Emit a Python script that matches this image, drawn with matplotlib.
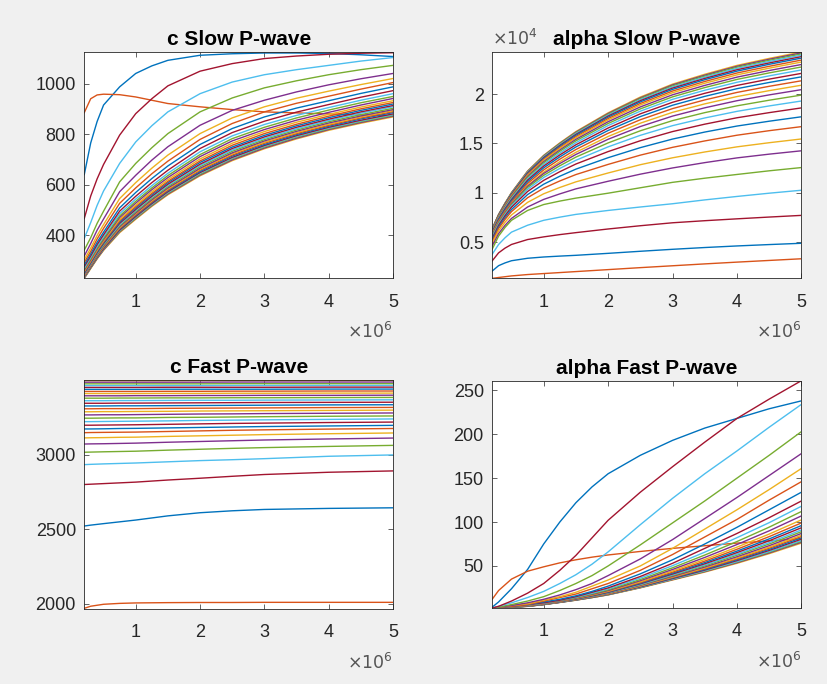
import matplotlib
matplotlib.use('Agg')
import matplotlib.pyplot as plt

plt.rcParams['font.family'] = ['Liberation Sans', 'DejaVu Sans']

# frequency samples (x 10^6)
freq_slow = [0.2, 0.3, 0.4, 0.5, 0.75, 1.0, 1.25, 1.5, 2.0, 2.5, 3.0, 3.5, 4.0, 4.5, 5.0]
freq_cfast = [0.2, 0.3, 0.5, 0.75, 1.0, 1.5, 2.0, 2.5, 3.0, 4.0, 5.0]
freq_afast = [0.2, 0.3, 0.5, 0.75, 1.0, 1.25, 1.5, 1.75, 2.0, 2.5, 3.0, 3.5, 4.0, 4.5, 5.0]

# c Slow P-wave, one row per curve (plot order)
c_slow = [
    [640, 765, 850, 915, 987, 1040, 1070, 1092, 1112, 1118, 1121, 1121, 1119, 1114, 1107],
    [885, 940, 955, 958, 956, 947, 934, 921, 908, 897, 888, 884, 880, 876, 873],
    [229, 268, 306, 340, 410, 463, 514, 560, 635, 695, 742, 781, 815, 843, 868],
    [230, 270, 308, 342, 413, 466, 517, 563, 638, 698, 745, 784, 818, 846, 871],
    [232, 271, 310, 344, 415, 468, 519, 566, 641, 702, 749, 788, 821, 849, 874],
    [233, 273, 312, 346, 418, 471, 522, 569, 645, 705, 752, 791, 824, 852, 877],
    [235, 274, 313, 347, 420, 474, 525, 572, 648, 708, 755, 794, 827, 855, 880],
    [237, 276, 315, 350, 424, 478, 529, 576, 652, 713, 759, 798, 831, 860, 885],
    [238, 278, 317, 352, 427, 481, 532, 579, 657, 717, 764, 802, 835, 864, 889],
    [240, 280, 320, 355, 430, 485, 536, 583, 661, 722, 768, 806, 839, 868, 893],
    [242, 282, 322, 357, 434, 488, 540, 587, 665, 726, 773, 811, 844, 872, 897],
    [245, 285, 325, 360, 438, 493, 545, 592, 671, 732, 778, 816, 849, 877, 902],
    [247, 287, 328, 364, 442, 498, 550, 597, 676, 737, 783, 821, 854, 883, 908],
    [249, 290, 331, 367, 447, 502, 554, 602, 681, 743, 789, 827, 859, 888, 913],
    [252, 293, 334, 370, 452, 508, 560, 608, 688, 749, 795, 833, 865, 894, 919],
    [255, 296, 338, 374, 457, 513, 565, 613, 694, 756, 802, 839, 871, 900, 925],
    [258, 299, 341, 378, 463, 519, 572, 620, 702, 764, 810, 847, 878, 907, 932],
    [262, 303, 346, 383, 470, 527, 580, 628, 711, 773, 818, 855, 886, 915, 941],
    [266, 307, 350, 388, 476, 534, 587, 636, 719, 782, 827, 864, 895, 924, 949],
    [270, 312, 356, 395, 485, 543, 596, 645, 730, 793, 838, 874, 905, 934, 960],
    [276, 318, 363, 402, 495, 554, 608, 657, 743, 806, 851, 887, 917, 946, 972],
    [283, 326, 372, 412, 508, 569, 624, 674, 759, 822, 868, 903, 932, 961, 987],
    [292, 336, 385, 427, 526, 587, 643, 693, 779, 842, 888, 922, 950, 978, 1004],
    [303, 349, 399, 442, 545, 608, 665, 717, 802, 864, 908, 942, 970, 996, 1020],
    [318, 367, 420, 464, 572, 637, 697, 750, 835, 894, 934, 967, 995, 1019, 1040],
    [341, 390, 447, 495, 611, 684, 746, 802, 888, 943, 983, 1011, 1035, 1055, 1072],
    [387, 450, 518, 575, 684, 769, 833, 888, 960, 1006, 1035, 1055, 1072, 1089, 1103],
    [466, 555, 623, 680, 796, 881, 940, 991, 1049, 1079, 1099, 1109, 1116, 1120, 1122],
]

# alpha Slow P-wave
alpha_slow = [
    [2050, 2600, 2880, 3100, 3350, 3480, 3570, 3650, 3850, 4060, 4260, 4440, 4600, 4740, 4870],
    [1310, 1400, 1480, 1560, 1700, 1800, 1900, 2000, 2200, 2400, 2590, 2780, 2960, 3130, 3300],
    [6330, 7800, 8950, 10010, 12200, 13790, 15050, 16200, 18100, 19700, 21010, 22010, 22910, 23620, 24270],
    [6315, 7780, 8920, 9980, 12160, 13750, 15000, 16140, 18030, 19620, 20930, 21920, 22820, 23530, 24180],
    [6300, 7760, 8900, 9950, 12110, 13700, 14950, 16080, 17960, 19550, 20840, 21830, 22730, 23430, 24080],
    [6280, 7730, 8860, 9900, 12060, 13630, 14870, 16000, 17870, 19440, 20730, 21720, 22610, 23310, 23950],
    [6260, 7700, 8830, 9860, 12000, 13560, 14790, 15910, 17770, 19330, 20610, 21590, 22470, 23160, 23800],
    [6240, 7670, 8790, 9810, 11930, 13480, 14710, 15820, 17660, 19210, 20480, 21460, 22330, 23020, 23650],
    [6210, 7620, 8730, 9740, 11850, 13380, 14590, 15690, 17520, 19050, 20310, 21280, 22140, 22820, 23450],
    [6180, 7580, 8680, 9680, 11760, 13280, 14480, 15570, 17380, 18900, 20140, 21100, 21950, 22630, 23250],
    [6140, 7520, 8610, 9600, 11650, 13150, 14330, 15410, 17200, 18700, 19930, 20880, 21720, 22390, 23000],
    [6100, 7470, 8540, 9510, 11550, 13030, 14200, 15260, 17020, 18500, 19720, 20660, 21490, 22150, 22750],
    [6050, 7400, 8450, 9410, 11410, 12870, 14020, 15070, 16810, 18270, 19470, 20390, 21200, 21850, 22450],
    [6000, 7320, 8360, 9300, 11270, 12700, 13830, 14860, 16560, 18000, 19170, 20080, 20880, 21520, 22100],
    [5940, 7240, 8260, 9180, 11110, 12520, 13630, 14640, 16310, 17720, 18870, 19770, 20550, 21180, 21750],
    [5870, 7140, 8140, 9040, 10930, 12310, 13400, 14380, 16030, 17400, 18530, 19410, 20170, 20790, 21350],
    [5790, 7030, 8010, 8890, 10730, 12080, 13140, 14100, 15700, 17050, 18150, 19010, 19750, 20350, 20900],
    [5700, 6980, 7960, 8850, 10640, 11950, 12960, 13880, 15420, 16710, 17770, 18610, 19330, 19920, 20450],
    [5600, 6910, 7890, 8770, 10520, 11760, 12730, 13610, 15050, 16280, 17310, 18120, 18810, 19380, 19900],
    [5480, 6810, 7790, 8660, 10340, 11540, 12460, 13290, 14650, 15820, 16800, 17580, 18250, 18800, 19300],
    [5350, 6690, 7660, 8520, 10120, 11250, 12130, 12910, 14170, 15270, 16200, 16950, 17600, 18120, 18600],
    [5200, 6530, 7470, 8290, 9810, 10860, 11670, 12390, 13550, 14570, 15440, 16150, 16760, 17250, 17700],
    [5050, 6370, 7290, 8080, 9490, 10460, 11190, 11840, 12870, 13810, 14600, 15250, 15830, 16290, 16700],
    [4850, 6130, 7000, 7740, 9020, 9890, 10530, 11100, 12000, 12840, 13540, 14130, 14650, 15070, 15450],
    [4590, 5850, 6690, 7390, 8550, 9320, 9880, 10390, 11160, 11880, 12510, 13050, 13530, 13910, 14250],
    [4260, 5600, 6480, 7200, 8200, 8800, 9150, 9450, 9950, 10500, 11050, 11470, 11850, 12220, 12550],
    [3750, 4750, 5430, 6000, 6700, 7200, 7520, 7800, 8200, 8550, 8880, 9270, 9620, 9950, 10250],
    [3080, 3900, 4380, 4750, 5250, 5520, 5750, 5950, 6320, 6650, 6950, 7160, 7350, 7530, 7700],
]

# c Fast P-wave
c_fast = [
    [2522, 2528, 2538, 2550, 2562, 2590, 2611, 2624, 2633, 2640, 2644],
    [1971, 1985, 1998, 2004, 2007, 2009, 2010, 2010, 2011, 2011, 2011],
    [3495, 3495, 3495, 3495, 3495, 3495, 3496, 3496, 3496, 3496, 3496],
    [3485, 3485, 3485, 3485, 3485, 3485, 3485, 3486, 3486, 3486, 3486],
    [3474, 3474, 3474, 3474, 3474, 3474, 3474, 3475, 3475, 3475, 3475],
    [3462, 3462, 3462, 3462, 3462, 3462, 3462, 3463, 3463, 3463, 3463],
    [3450, 3450, 3450, 3450, 3450, 3451, 3451, 3451, 3451, 3452, 3452],
    [3437, 3437, 3437, 3437, 3437, 3438, 3438, 3438, 3438, 3439, 3439],
    [3423, 3423, 3423, 3423, 3423, 3424, 3424, 3425, 3425, 3426, 3426],
    [3409, 3409, 3409, 3409, 3409, 3410, 3410, 3411, 3411, 3412, 3412],
    [3394, 3394, 3394, 3394, 3395, 3395, 3396, 3396, 3397, 3397, 3398],
    [3378, 3378, 3378, 3379, 3379, 3380, 3380, 3381, 3381, 3382, 3383],
    [3361, 3361, 3361, 3362, 3362, 3363, 3364, 3364, 3365, 3366, 3367],
    [3344, 3344, 3344, 3345, 3345, 3346, 3347, 3348, 3349, 3350, 3351],
    [3326, 3326, 3326, 3327, 3327, 3328, 3329, 3330, 3331, 3333, 3334],
    [3307, 3307, 3308, 3308, 3308, 3310, 3311, 3312, 3313, 3315, 3316],
    [3287, 3287, 3288, 3288, 3289, 3290, 3292, 3293, 3294, 3296, 3298],
    [3266, 3266, 3267, 3267, 3268, 3270, 3272, 3273, 3275, 3277, 3279],
    [3244, 3244, 3245, 3246, 3246, 3249, 3250, 3252, 3254, 3257, 3259],
    [3221, 3221, 3222, 3223, 3224, 3226, 3229, 3231, 3233, 3236, 3239],
    [3197, 3197, 3198, 3199, 3200, 3203, 3206, 3209, 3211, 3215, 3218],
    [3172, 3172, 3173, 3175, 3176, 3179, 3182, 3185, 3188, 3192, 3196],
    [3147, 3148, 3149, 3150, 3151, 3155, 3159, 3163, 3166, 3171, 3175],
    [3112, 3113, 3114, 3116, 3117, 3122, 3126, 3130, 3134, 3140, 3145],
    [3071, 3072, 3073, 3075, 3077, 3083, 3088, 3093, 3098, 3105, 3111],
    [3016, 3017, 3019, 3021, 3023, 3030, 3036, 3042, 3047, 3055, 3062],
    [2933, 2935, 2938, 2941, 2944, 2952, 2960, 2966, 2973, 2989, 2998],
    [2800, 2802, 2806, 2811, 2816, 2830, 2842, 2855, 2867, 2882, 2891],
]

# alpha Fast P-wave
alpha_fast = [
    [3, 9, 24, 46, 75, 100, 122, 140, 155, 176, 193, 207, 218, 229, 238],
    [12, 22, 35, 44, 49, 53.5, 57, 60, 62.5, 66.5, 70, 73, 76, 78.5, 81],
    [1.5, 2.0, 3.0, 4.0, 6.0, 8.4, 11.0, 13.9, 17.0, 25.0, 34.0, 43.0, 53.0, 64.0, 76],
    [1.5, 2.0, 3.0, 4.0, 6.0, 8.5, 11.1, 14.0, 17.2, 25.3, 34.4, 43.5, 53.7, 64.8, 77],
    [1.5, 2.0, 3.0, 4.1, 6.1, 8.6, 11.2, 14.1, 17.3, 25.5, 34.8, 44.0, 54.4, 65.6, 78],
    [1.5, 2.1, 3.1, 4.1, 6.1, 8.6, 11.2, 14.2, 17.5, 25.8, 35.1, 44.5, 55.0, 66.4, 79],
    [1.5, 2.1, 3.1, 4.2, 6.2, 8.7, 11.4, 14.4, 17.7, 26.2, 35.7, 45.3, 56.1, 67.7, 80.5],
    [1.6, 2.1, 3.1, 4.2, 6.2, 8.8, 11.5, 14.6, 18.0, 26.6, 36.3, 46.1, 57.1, 68.9, 82],
    [1.6, 2.2, 3.2, 4.3, 6.3, 8.9, 11.6, 14.8, 18.2, 27.0, 36.9, 46.9, 58.1, 70.2, 83.5],
    [1.6, 2.2, 3.2, 4.4, 6.4, 9.0, 11.7, 14.9, 18.4, 27.3, 37.4, 47.7, 59.1, 71.4, 85],
    [1.6, 2.2, 3.2, 4.4, 6.4, 9.1, 11.9, 15.2, 18.8, 27.9, 38.2, 48.8, 60.5, 73.1, 87],
    [1.6, 2.3, 3.3, 4.5, 6.5, 9.2, 12.1, 15.5, 19.2, 28.5, 39.1, 50.1, 62.2, 75.0, 89],
    [1.7, 2.3, 3.3, 4.6, 6.6, 9.3, 12.2, 15.7, 19.5, 29.0, 39.9, 51.2, 63.5, 76.6, 91],
    [1.7, 2.4, 3.4, 4.7, 6.7, 9.5, 12.4, 16.0, 19.9, 29.7, 40.8, 52.5, 65.2, 78.7, 93.5],
    [1.7, 2.4, 3.4, 4.8, 6.8, 9.6, 12.6, 16.3, 20.3, 30.3, 41.8, 53.9, 66.9, 80.8, 96],
    [1.7, 2.5, 3.5, 4.9, 6.9, 9.8, 12.9, 16.7, 20.8, 31.1, 42.9, 55.5, 69.0, 83.4, 99],
    [1.8, 2.5, 3.5, 5.1, 7.1, 10.0, 13.2, 17.1, 21.3, 32.0, 44.3, 57.4, 71.4, 86.3, 102.5],
    [1.8, 2.6, 3.6, 5.3, 7.3, 10.3, 13.5, 17.6, 22.0, 33.2, 46.0, 59.7, 74.4, 90.0, 107],
    [1.9, 2.7, 3.7, 5.5, 7.5, 10.6, 13.9, 18.2, 22.8, 34.5, 47.9, 62.4, 77.8, 94.2, 112],
    [1.9, 2.9, 3.9, 5.7, 7.7, 10.9, 14.4, 19.0, 23.9, 36.2, 50.3, 65.7, 82.2, 99.3, 118],
    [2, 3, 4, 6, 8, 11, 15, 20, 25, 38, 53, 70, 87, 105, 124],
    [2, 3, 4, 6, 9, 12, 16, 21, 27, 41, 57, 75, 94, 114, 134],
    [2, 3, 4, 6, 10, 14, 18, 24, 30, 45, 63, 83, 103, 125, 146],
    [2, 3, 5, 7, 11, 15, 20, 27, 34, 50, 70, 92, 114, 137, 161],
    [2, 3, 5, 8, 12, 17, 23, 30, 39, 58, 80, 104, 128, 153, 178],
    [2, 3, 6, 10, 15, 22, 30, 39, 50, 74, 99, 124, 150, 176, 203],
    [2, 4, 8, 14, 21, 30, 40, 52, 66, 97, 127, 155, 181, 208, 234],
    [2, 4, 10, 19, 30, 45, 62, 82, 102, 134, 163, 191, 218, 240, 261],
]

titles = ['c Slow P-wave', 'alpha Slow P-wave', 'c Fast P-wave', 'alpha Fast P-wave']
y_limits = [(229, 1125), (1310, 24270), (1968, 3500), (2.4, 261)]
y_ticks = [[400, 600, 800, 1000], [5000, 10000, 15000, 20000],
           [2000, 2500, 3000], [50, 100, 150, 200, 250]]
y_ticklabels = [['400', '600', '800', '1000'], ['0.5', '1', '1.5', '2'],
                ['2000', '2500', '3000'], ['50', '100', '150', '200', '250']]

# MATLAB default colour order
matlab_colors = ['#0072BD', '#D95319', '#EDB120', '#7E2F8E',
                 '#77AC30', '#4DBEEE', '#A2142F']

positions = [[0.1019, 0.5930, 0.3733, 0.3310],
             [0.5951, 0.5930, 0.3740, 0.3310],
             [0.1019, 0.1100, 0.3733, 0.3345],
             [0.5951, 0.1115, 0.3740, 0.3320]]

panels = [(freq_slow, c_slow), (freq_slow, alpha_slow),
          (freq_cfast, c_fast), (freq_afast, alpha_fast)]

fig = plt.figure(figsize=(8.27, 6.84), dpi=100, facecolor='#f0f0f0')
txt_col = '#262626'

for i, (xs, series) in enumerate(panels):
    ax = fig.add_axes(positions[i])
    for k, curve in enumerate(series):
        ax.plot(xs, curve, color=matlab_colors[k % 7], lw=1.0)
    ax.set_xlim(0.2, 5)
    ax.set_ylim(*y_limits[i])
    ax.set_xticks([1, 2, 3, 4, 5])
    ax.set_xticklabels(['1', '2', '3', '4', '5'])
    ax.set_yticks(y_ticks[i])
    ax.set_yticklabels(y_ticklabels[i])
    ax.tick_params(direction='in', top=True, right=True, length=3.5, width=0.5,
                   color=txt_col, labelcolor=txt_col, labelsize=13)
    ax.tick_params(axis='x', pad=11)
    ax.tick_params(axis='y', pad=6)
    for sp in ax.spines.values():
        sp.set_color(txt_col)
        sp.set_linewidth(0.6)
    ax.set_title(titles[i], fontsize=15, fontweight='bold', color='black', pad=5)
    # exponent labels as MATLAB draws them
    ax.annotate(r'$\times10^{6}$', xy=(1, 0), xycoords='axes fraction',
                xytext=(0, -38), textcoords='offset points', ha='right', va='center',
                fontsize=12.5, color='#555555')
    if i == 1:
        ax.annotate(r'$\times10^{4}$', xy=(0, 1), xycoords='axes fraction',
                    xytext=(0, 10), textcoords='offset points', ha='left', va='center',
                    fontsize=12.5, color='#555555')

fig.savefig('out.png', dpi=100, facecolor=fig.get_facecolor())
